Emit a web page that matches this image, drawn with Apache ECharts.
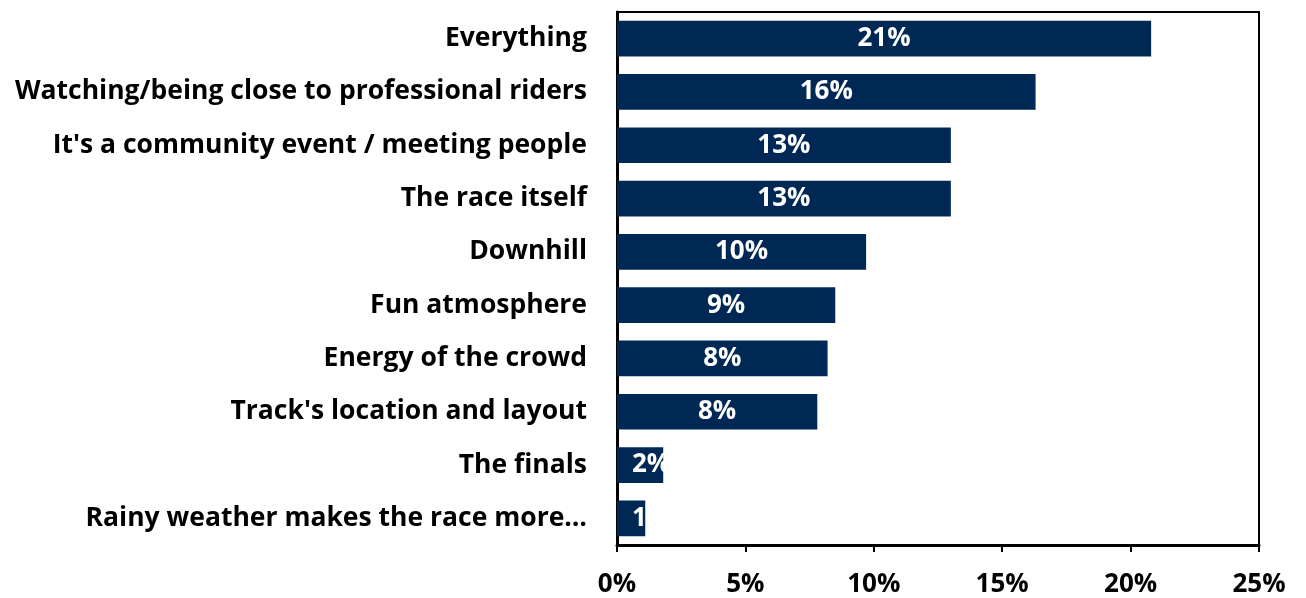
<!DOCTYPE html>
<html>
<head>
<meta charset="utf-8">
<script src="https://cdn.jsdelivr.net/npm/echarts@6/dist/echarts.min.js"></script>
<style>
  html, body { margin: 0; padding: 0; background: #fff; }
  #chart { width: 1306px; height: 598px; }
</style>
</head>
<body>
<div id="chart"></div>
<script>
// What people enjoy most about the event (share of responses, %)
const categories = [
  "Everything",
  "Watching/being close to professional riders",
  "It's a community event / meeting people",
  "The race itself",
  "Downhill",
  "Fun atmosphere",
  "Energy of the crowd",
  "Track's location and layout",
  "The finals",
  "Rainy weather makes the race more\u2026"
];
const shares = [20.8, 16.3, 13.0, 13.0, 9.7, 8.5, 8.2, 7.8, 1.8, 1.1];
const xTicks = [0, 5, 10, 15, 20, 25];

const FONT = "'Open Sans', 'Liberation Sans', sans-serif";
const FONT_SIZE = 26;
const NAVY = "#002855";

// Very short bars get their value label pinned near the bar start
const barData = shares.map(v => v < 5
  ? { value: v, label: { position: "insideLeft", distance: 15 } }
  : v);

const chart = echarts.init(document.getElementById("chart"), null, { renderer: "canvas" });
chart.setOption({
  animation: false,
  backgroundColor: "#fff",
  grid: {
    left: 617, right: 47, top: 12, bottom: 53,
    show: true, borderColor: "#000", borderWidth: 2
  },
  xAxis: {
    type: "value",
    min: xTicks[0],
    max: xTicks[xTicks.length - 1],
    interval: xTicks[1] - xTicks[0],
    axisLine: { show: true, lineStyle: { color: "#000", width: 3 } },
    axisTick: { show: true, length: 7, lineStyle: { color: "#000", width: 2 } },
    splitLine: { show: false },
    axisLabel: {
      margin: 27,
      color: "#000",
      fontFamily: FONT,
      fontWeight: "bold",
      fontSize: FONT_SIZE,
      formatter: v => v + "%"
    }
  },
  yAxis: {
    type: "category",
    inverse: true,
    data: categories,
    axisLine: { show: true, lineStyle: { color: "#000", width: 3 } },
    axisTick: { show: false },
    axisLabel: {
      margin: 30,
      color: "#000",
      fontFamily: FONT,
      fontWeight: "bold",
      fontSize: 26.5,
      padding: [4, 0, 0, 0]
    }
  },
  series: [{
    type: "bar",
    data: barData,
    barCategoryGap: "33%",
    itemStyle: { color: NAVY },
    label: {
      show: true,
      position: "inside",
      color: "#fff",
      fontFamily: FONT,
      fontWeight: "bold",
      fontSize: FONT_SIZE,
      padding: [3, 0, 0, 0],
      formatter: p => Math.round(p.value) + "%"
    }
  }]
});
</script>
</body>
</html>
